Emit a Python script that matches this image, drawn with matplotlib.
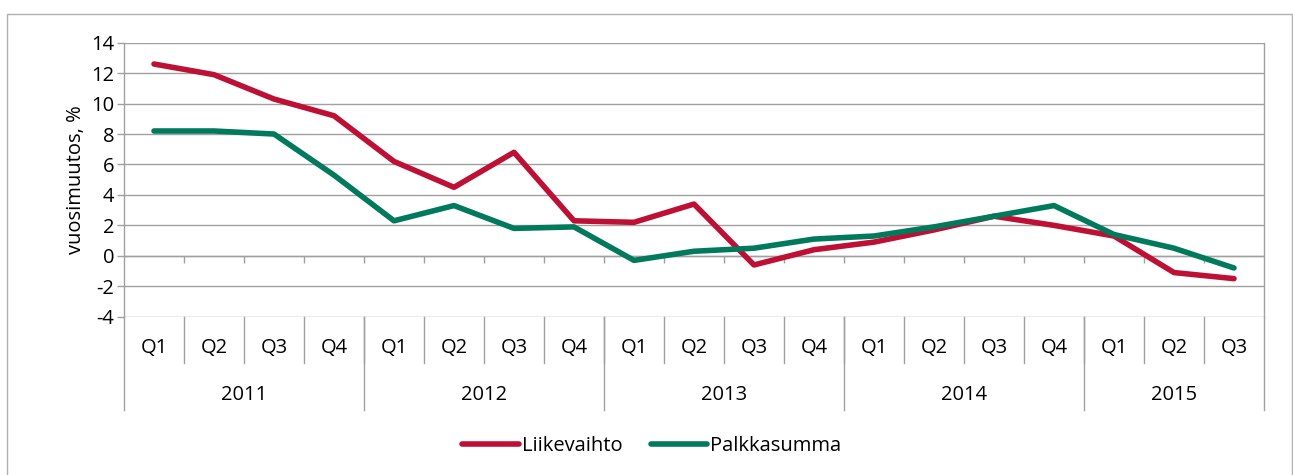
import matplotlib.pyplot as plt
from matplotlib.lines import Line2D
import matplotlib.transforms as mtransforms

plt.rcParams['font.family'] = ['Open Sans', 'DejaVu Sans']

#--- data
years = ['2011', '2012', '2013', '2014', '2015']
quarters = ['Q1', 'Q2', 'Q3', 'Q4'] * 4 + ['Q1', 'Q2', 'Q3']
liikevaihto = [12.6, 11.9, 10.3, 9.2, 6.2, 4.5, 6.8, 2.3, 2.2, 3.4,
               -0.6, 0.4, 0.9, 1.7, 2.6, 2.0, 1.3, -1.1, -1.5]
palkkasumma = [8.2, 8.2, 8.0, 5.3, 2.3, 3.3, 1.8, 1.9, -0.3, 0.3,
               0.5, 1.1, 1.3, 1.9, 2.6, 3.3, 1.4, 0.5, -0.8]
quarters_per_year = [4, 4, 4, 4, 3]

red = '#be0f34'
green = '#00795d'
grey = '#a0a0a0'
fs = 14.5

W, H = 1293, 475
fig = plt.figure(figsize=(W / 100, H / 100), dpi=100)
ax = fig.add_axes([124 / W, (H - 316.7) / H, (1264 - 124) / W, 274 / H])

n = len(quarters)
x = list(range(n))
ax.plot(x, liikevaihto, color=red, lw=4, solid_capstyle='round', solid_joinstyle='round',
        label='Liikevaihto', zorder=3)
ax.plot(x, palkkasumma, color=green, lw=4, solid_capstyle='round', solid_joinstyle='round',
        label='Palkkasumma', zorder=3)

ax.set_xlim(-0.5, n - 0.5)
ax.set_ylim(-4, 14)
ax.set_yticks(range(-4, 15, 2))
ax.set_yticklabels([str(v) for v in range(-4, 15, 2)], fontsize=fs)
ax.tick_params(axis='y', length=5, width=1, color=grey, pad=2)
ax.set_xticks([])
ax.yaxis.grid(True, color=grey, lw=1)
ax.set_axisbelow(True)
for s in ['top', 'bottom']:
    ax.spines[s].set_visible(False)
for s in ['left', 'right']:
    ax.spines[s].set_color(grey)
    ax.spines[s].set_linewidth(1)
ax.set_ylabel('vuosimuutos, %', fontsize=fs, labelpad=4)

# horizontal axis at zero with small ticks between categories
ax.axhline(0, color=grey, lw=1, zorder=1)
ax.vlines([i + 0.5 for i in range(n - 1)], -0.5, 0, color=grey, lw=1, zorder=1)

# multi-level category labels below the plot
trans = mtransforms.blended_transform_factory(ax.transData, ax.transAxes)
q_bot, y_bot = -0.169, -0.340
for i, q in enumerate(quarters):
    ax.text(i, -0.115, q, transform=trans, ha='center', va='center', fontsize=fs)
for i in range(n - 1):
    ax.add_line(Line2D([i + 0.5, i + 0.5], [0, q_bot], transform=trans,
                       color=grey, lw=1, clip_on=False))
start = 0
bounds = [-0.5]
for yr, cnt in zip(years, quarters_per_year):
    ax.text(start + (cnt - 1) / 2, -0.286, yr, transform=trans, ha='center',
            va='center', fontsize=fs)
    start += cnt
    bounds.append(start - 0.5)
for b in bounds:
    ax.add_line(Line2D([b, b], [0, y_bot], transform=trans,
                       color=grey, lw=1, clip_on=False))

# legend
fig.legend(loc='center', bbox_to_anchor=(0.504, 1 - 446 / H), ncol=2, frameon=False,
           fontsize=fs, handlelength=2.8, handletextpad=0.15, columnspacing=1.4)

# chart border
bx0, bx1, by1 = 7 / W, 1292 / W, 1 - 14 / H
fig.add_artist(Line2D([bx0, bx0, bx1, bx1], [0, by1, by1, 0],
                      transform=fig.transFigure, color='#b0b0b0', lw=1))

fig.savefig('out.png', dpi=100)
